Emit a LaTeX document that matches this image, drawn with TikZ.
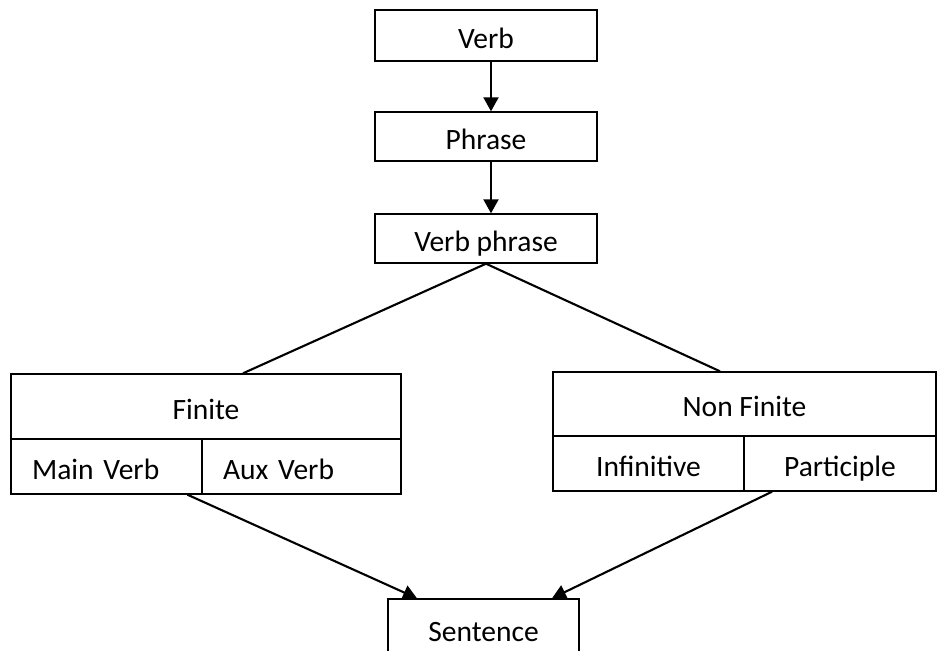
\documentclass[tikz,border=0pt]{standalone}
\usepackage{fontspec}
\setmainfont{Carlito}
\usetikzlibrary{arrows.meta}

\begin{document}
\begin{tikzpicture}[x=0.02cm,y=-0.02cm,
    box/.style={draw, line width=0.8pt, inner sep=0pt, text height=14.6pt, text depth=0pt,
      font=\fontsize{16.8}{20}\selectfont},
    leftcell/.style={box, align=left, inner xsep=0.42cm, text width=#1},
    conn/.style={line width=1.2pt},
    arr/.style={conn, -{Triangle[length=0.28cm,width=0.3cm]}}]
            \useasboundingbox (0,0) rectangle (937,650);

            \node[box, minimum width=4.44cm, minimum height=1.02cm] (verb) at (486,35.5) {Verb};
            \node[box, minimum width=4.44cm, minimum height=0.98cm] (phrase) at (486,136.5) {Phrase};
            \node[box, minimum width=4.44cm, minimum height=0.98cm] (vphrase) at (486,238.5) {Verb phrase};

            \node[box, minimum width=7.8cm, minimum height=1.3cm] (finite) at (206,406.5) {Finite};
            \node[leftcell=2.98cm, minimum height=1.1cm] (mainverb) at (106.5,466.5) {Main Verb};
            \node[leftcell=3.14cm, minimum height=1.1cm] (auxverb) at (301.5,466.5) {Aux Verb};

            \node[box, minimum width=7.66cm, minimum height=1.28cm] (nonfinite) at (744.5,404) {Non Finite};
            \node[box, minimum width=3.82cm, minimum height=1.1cm] (infinitive) at (648.5,463.5) {Infinitive};
            \node[box, minimum width=3.84cm, minimum height=1.1cm] (participle) at (840,463.5) {Participle};

            \node[box, minimum width=3.82cm, minimum height=1.2cm] (sentence) at (483.5,629) {Sentence};

            \draw[arr] ([xshift=0.1cm]verb.south) -- ([xshift=0.1cm]phrase.north);
            \draw[arr] ([xshift=0.1cm]phrase.south) -- ([xshift=0.1cm]vphrase.north);

            \draw[conn] (vphrase.south) -- ([xshift=0.74cm]finite.north);
            \draw[conn] (vphrase.south) -- ([xshift=-0.49cm]nonfinite.north);

            \draw[arr] ([xshift=1.62cm]mainverb.south) -- ([xshift=-1.33cm]sentence.north);
            \draw[arr] ([xshift=-1.36cm]participle.south) -- ([xshift=1.37cm]sentence.north);
        \end{tikzpicture}
\end{document}
